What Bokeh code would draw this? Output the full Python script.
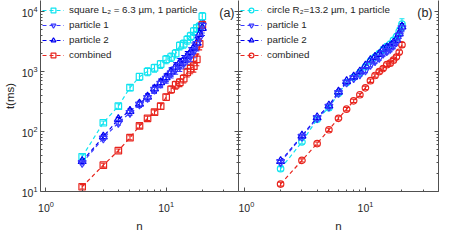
from bokeh.plotting import figure
from bokeh.layouts import row
from bokeh.models import (ColumnDataSource, Whisker, FixedTicker, LogTickFormatter,
                          LogAxis, Legend, LegendItem, Label, TeeHead, CustomJSTickFormatter)
from bokeh.embed import file_html
from bokeh.resources import INLINE

FONT = "Liberation Sans"

# ---------------- data ----------------
n = list(range(2, 21))

# panel (a): square L2 = 6.3 um
cyan_a = [38, 140, 265, 540, 820, 1000, 1150, 1330, 1600, 1750, 2000, 2700, 2900, 3400, 3900, 4700, 5300, 5600, 8300]
cyan_a_err = [3, 10, 25, 60, 110, 150, 170, 200, 250, 280, 320, 400, 450, 550, 600, 700, 800, 900, 1300]
p1_a = [30, 77, 140, 205, 283, 365, 500, 630, 760, 940, 1100, 1250, 1400, 1650, 1850, 2200, 2900, 3700, 5800]
p1_a_err = [2, 6, 12, 20, 30, 45, 70, 90, 120, 160, 200, 250, 300, 350, 400, 500, 700, 900, 1400]
p2_a = [32, 82, 160, 220, 290, 380, 520, 660, 800, 1000, 1200, 1400, 1550, 1800, 2100, 2500, 3000, 4200, 5300]
p2_a_err = [2, 6, 12, 20, 30, 45, 70, 90, 120, 160, 200, 250, 300, 350, 400, 500, 700, 1000, 1300]
red_a = [12, 27.5, 48, 79, 124, 166, 210, 265, 375, 505, 600, 660, 765, 970, 1120, 1230, 1600, 2900, 6000]
red_a_err = [1, 2, 3, 6, 10, 14, 20, 30, 45, 70, 90, 100, 120, 160, 200, 250, 350, 600, 1200]

# panel (b): circle R2 = 13.2 um
cyan_b = [24, 67, 160, 250, 430, 650, 800, 950, 1200, 1500, 1750, 2000, 2300, 2600, 2850, 3300, 3800, 4700, 6200]
cyan_b_err = [2, 5, 12, 20, 35, 50, 60, 80, 100, 130, 160, 200, 250, 300, 350, 400, 500, 700, 1400]
p1_b = [31, 82, 168, 260, 440, 660, 780, 900, 1050, 1300, 1500, 1700, 2000, 2200, 2400, 2700, 3100, 4000, 5300]
p1_b_err = [2, 5, 12, 18, 30, 45, 55, 70, 90, 110, 130, 160, 200, 230, 260, 300, 350, 450, 700]
p2_b = [32, 85, 172, 270, 460, 690, 820, 1000, 1250, 1550, 1750, 1950, 2350, 2500, 2650, 3000, 3400, 4300, 5600]
p2_b_err = [2, 5, 12, 18, 30, 45, 55, 70, 90, 110, 130, 160, 200, 230, 260, 300, 350, 450, 700]
red_b = [13.3, 33, 63, 107, 166, 236, 325, 410, 536, 705, 860, 1000, 1120, 1300, 1380, 1550, 1740, 2100, 2800]
red_b_err = [1, 2, 4, 7, 10, 15, 20, 25, 35, 45, 55, 65, 75, 90, 100, 110, 130, 160, 250]

x_major = [1, 10]
x_minor = [2, 3, 4, 5, 6, 7, 8, 9, 20, 30, 40]
y_major = [10, 100, 1000, 10000]
y_minor = [20, 30, 40, 50, 60, 70, 80, 90, 200, 300, 400, 500, 600, 700, 800, 900,
           2000, 3000, 4000, 5000, 6000, 7000, 8000, 9000]

CYAN = "#10e4f0"
BLUE1 = "#3a3aff"
BLUE2 = "#0000f0"
RED = "#e8251e"
AXC = "#505050"
TXT = "#262626"

FRAME_W = 200
H = 234
BOTTOM = 42


def style_axis(ax, labels=True):
    ax.major_tick_in = 4
    ax.major_tick_out = 0
    ax.minor_tick_in = 2
    ax.minor_tick_out = 0
    ax.axis_line_color = AXC
    ax.major_tick_line_color = AXC
    ax.minor_tick_line_color = AXC
    ax.major_label_text_font = FONT
    ax.major_label_text_color = TXT
    ax.major_label_text_font_size = "10.5px"
    ax.axis_label_text_font = FONT
    ax.axis_label_text_font_style = "normal"
    ax.axis_label_text_color = TXT
    ax.axis_label_text_font_size = "11.5px"
    if labels:
        ax.formatter = LogTickFormatter()
        ax.major_label_standoff = 3
    else:
        ax.formatter = CustomJSTickFormatter(code="return ''")
        ax.major_label_standoff = 0


def make_fig(width, left, right, ylabels):
    p = figure(width=width, height=H, x_axis_type="log", y_axis_type="log",
               x_range=(0.9, 40), y_range=(10, 15300), output_backend="svg",
               toolbar_location=None, min_border_left=left, min_border_right=right,
               min_border_top=0, min_border_bottom=BOTTOM)
    p.outline_line_color = None
    p.grid.visible = False
    p.background_fill_color = "white"
    p.border_fill_color = "white"
    xa = p.xaxis[0]
    xa.ticker = FixedTicker(ticks=x_major, minor_ticks=x_minor)
    xa.axis_label = "n"
    style_axis(xa)
    xa.major_label_standoff = 9
    xa.axis_label_standoff = 5
    ya = p.yaxis[0]
    ya.ticker = FixedTicker(ticks=y_major, minor_ticks=y_minor)
    style_axis(ya, ylabels)
    if ylabels:
        ya.axis_label = "t(ms)"
        ya.axis_label_standoff = 3
    ra = LogAxis(ticker=FixedTicker(ticks=y_major, minor_ticks=y_minor))
    style_axis(ra, False)
    p.add_layout(ra, "right")
    return p, ra


def add_series(p, yv, ev, color, marker, size):
    src = ColumnDataSource(dict(x=n, y=yv,
                                upper=[a + b for a, b in zip(yv, ev)],
                                lower=[a - b for a, b in zip(yv, ev)]))
    w = Whisker(base="x", upper="upper", lower="lower", source=src, dimension="height",
                line_color=color, line_width=1.1,
                upper_head=TeeHead(size=5, line_color=color, line_width=1.1),
                lower_head=TeeHead(size=5, line_color=color, line_width=1.1))
    p.add_layout(w)
    lr = p.line("x", "y", source=src, line_color=color, line_width=1.2, line_dash="4 3")
    sr = p.scatter("x", "y", source=src, marker=marker, size=size, fill_color=None,
                   line_color=color, line_width=1.2)
    return [lr, sr]


def add_legend(p, items):
    leg = Legend(items=[LegendItem(label=l, renderers=r) for l, r in items],
                 location="top_left", border_line_color=None, background_fill_alpha=0,
                 label_text_font=FONT, label_text_font_size="9.8px", label_text_color=TXT,
                 glyph_width=22, glyph_height=12, label_height=15, label_standoff=5,
                 spacing=0, padding=1, margin=2)
    p.add_layout(leg)


# panel (a)
pa, ra_a = make_fig(38 + FRAME_W, 38, 0, True)
ra_a.axis_line_color = None
r_c = add_series(pa, cyan_a, cyan_a_err, CYAN, "square", 6.5)
r_r = add_series(pa, red_a, red_a_err, RED, "square", 6.5)
r_2 = add_series(pa, p2_a, p2_a_err, BLUE2, "triangle", 8)
r_1 = add_series(pa, p1_a, p1_a_err, BLUE1, "inverted_triangle", 8)
add_legend(pa, [("square L\u2082 = 6.3 \u00b5m, 1 particle", r_c),
                ("particle 1", r_1), ("particle 2", r_2), ("combined", r_r)])
pa.add_layout(Label(x=FRAME_W - 6, y=H - BOTTOM - 13, x_units="screen", y_units="screen",
                    text="(a)", text_align="right", text_baseline="middle",
                    text_font=FONT, text_font_size="12.5px", text_color=TXT))

# panel (b)
pb, ra_b = make_fig(FRAME_W + 2, 0, 2, False)
r_c = add_series(pb, cyan_b, cyan_b_err, CYAN, "circle", 6.5)
r_r = add_series(pb, red_b, red_b_err, RED, "circle", 6.5)
r_2 = add_series(pb, p2_b, p2_b_err, BLUE2, "triangle", 8)
r_1 = add_series(pb, p1_b, p1_b_err, BLUE1, "inverted_triangle", 8)
add_legend(pb, [("circle R\u2082=13.2 \u00b5m, 1 particle", r_c),
                ("particle 1", r_1), ("particle 2", r_2), ("combined", r_r)])
pb.add_layout(Label(x=FRAME_W - 6, y=H - BOTTOM - 13, x_units="screen", y_units="screen",
                    text="(b)", text_align="right", text_baseline="middle",
                    text_font=FONT, text_font_size="12.5px", text_color=TXT))

layout = row(pa, pb)
open("out.html", "w").write(file_html(layout, INLINE))
